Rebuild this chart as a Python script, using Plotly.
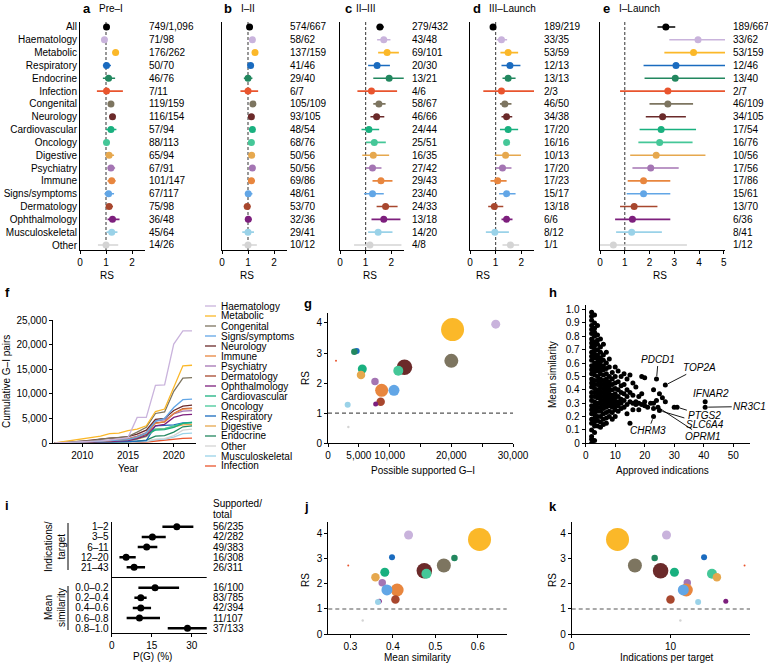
import plotly.graph_objects as go

W, H = 768, 664
FONT = "Liberation Sans, Arial, Helvetica, sans-serif"

# ---------------- data ----------------
categories = ["All", "Haematology", "Metabolic", "Respiratory", "Endocrine", "Infection",
              "Congenital", "Neurology", "Cardiovascular", "Oncology", "Digestive",
              "Psychiatry", "Immune", "Signs/symptoms", "Dermatology", "Ophthalmology",
              "Musculoskeletal", "Other"]
cat_colors = ["#000000", "#c9b3dc", "#fbb829", "#1a6bbf", "#22875f", "#e9552e",
              "#7d7560", "#6b2a2a", "#19b07f", "#45c798", "#e6a84e",
              "#a475b3", "#e8863e", "#62a6e6", "#a8472e", "#7d1f7d",
              "#9ad2e8", "#d4d4d4"]
color_of = dict(zip(categories, cat_colors))

# a: Pre-I
rs_a = [1.02, 0.94, 1.37, 1.02, 1.10, 1.02, 1.19, 1.25, 1.19, 1.02, 1.12, 1.19, 1.22, 1.10, 1.12, 1.25, 1.22, 1.00]
lo_a = [0.98, 0.86, 1.25, 0.88, 0.88, 0.65, 1.12, 1.18, 1.00, 0.96, 0.98, 1.06, 1.06, 0.94, 1.00, 1.06, 1.02, 0.69]
hi_a = [1.06, 1.02, 1.50, 1.19, 1.35, 1.65, 1.27, 1.33, 1.40, 1.08, 1.31, 1.35, 1.37, 1.31, 1.27, 1.52, 1.44, 1.47]
frac_a = ["749/1,096", "71/98", "176/262", "50/70", "46/76", "7/11", "119/159", "116/154", "57/94",
          "88/113", "65/94", "67/91", "101/147", "67/117", "75/98", "36/48", "45/64", "14/26"]
# b: I-II
rs_b = [1.06, 1.17, 1.27, 1.10, 1.00, 1.00, 1.19, 1.13, 1.17, 1.13, 1.14, 1.17, 1.13, 1.01, 0.97, 1.01, 1.00, 1.00]
lo_b = [1.02, 1.10, 1.19, 1.02, 0.84, 0.71, 1.13, 1.06, 1.09, 1.07, 1.06, 1.09, 1.00, 0.88, 0.84, 0.90, 0.78, 0.78]
hi_b = [1.10, 1.24, 1.35, 1.18, 1.17, 1.39, 1.25, 1.20, 1.25, 1.19, 1.22, 1.25, 1.27, 1.17, 1.10, 1.14, 1.23, 1.34]
frac_b = ["574/667", "58/62", "137/159", "41/46", "29/40", "6/7", "105/109", "93/105", "48/54",
          "68/76", "50/56", "50/56", "69/86", "48/61", "53/70", "32/36", "29/41", "10/12"]
# c: II-III
rs_c = [1.56, 1.71, 1.84, 1.45, 1.92, 1.23, 1.52, 1.43, 1.13, 1.34, 1.30, 1.27, 1.60, 1.27, 1.78, 1.71, 1.49, 1.17]
lo_c = [1.43, 1.45, 1.49, 1.10, 1.30, 0.68, 1.30, 1.19, 0.84, 1.01, 0.87, 1.01, 1.27, 0.94, 1.43, 1.23, 1.10, 0.55]
hi_c = [1.71, 1.97, 2.30, 1.95, 2.49, 2.23, 1.78, 1.73, 1.53, 1.79, 1.92, 1.62, 2.05, 1.71, 2.25, 2.36, 2.05, 2.40]
frac_c = ["279/432", "43/48", "69/101", "20/30", "13/21", "4/6", "58/67", "46/66", "24/44",
          "25/51", "16/35", "27/42", "29/43", "23/40", "24/33", "13/18", "14/20", "4/8"]
# d: III-Launch
rs_d = [0.90, 1.23, 1.49, 1.56, 1.49, 1.23, 1.36, 1.43, 1.49, 1.43, 1.39, 1.27, 1.08, 1.43, 0.95, 1.43, 0.97, 1.58]
lo_d = [0.86, 1.04, 1.19, 1.23, 1.27, 0.52, 1.17, 1.23, 1.17, 1.40, 0.97, 1.00, 0.80, 1.14, 0.71, 1.23, 0.62, 1.27]
hi_d = [0.94, 1.45, 1.88, 1.97, 1.78, 2.50, 1.62, 1.65, 1.88, 1.46, 1.99, 1.62, 1.43, 1.78, 1.30, 1.66, 1.52, 1.92]
frac_d = ["189/219", "33/35", "53/59", "12/13", "13/13", "2/3", "46/50", "34/38", "17/20",
          "16/16", "10/13", "17/20", "17/23", "15/17", "13/18", "6/6", "8/12", "1/1"]
# e: I-Launch
rs_e = [2.66, 3.96, 3.78, 3.07, 3.04, 2.74, 2.74, 2.53, 2.47, 2.41, 2.27, 2.05, 1.76, 1.76, 1.38, 1.31, 1.28, 0.54]
lo_e = [2.32, 2.80, 2.60, 1.76, 1.80, 0.81, 2.00, 1.85, 1.60, 1.55, 1.22, 1.31, 1.12, 1.08, 0.81, 0.61, 0.65, 0.00]
hi_e = [3.04, 5.60, 5.60, 5.60, 5.60, 5.60, 3.76, 3.47, 3.88, 3.74, 4.26, 3.18, 2.84, 2.84, 2.32, 2.84, 2.50, 3.51]
frac_e = ["189/667", "33/62", "53/159", "12/46", "13/40", "2/7", "46/109", "34/105", "17/54",
          "16/76", "10/56", "17/56", "17/86", "15/61", "13/70", "6/36", "8/41", "1/12"]

# f: cumulative G-I pairs by year
years = list(range(2007, 2023))
cum_haematology = [0, 60, 150, 250, 350, 450, 600, 800, 1100, 5200, 5200, 11700, 11800, 20100, 22800, 22800]
cum_metabolic = [0, 250, 500, 900, 1000, 1400, 1900, 2000, 2500, 2800, 3500, 6400, 6900, 11200, 15700, 15800]
cum_congenital = [0, 100, 200, 400, 500, 800, 1000, 1100, 1300, 2200, 3200, 6000, 6300, 10500, 13200, 13300]
cum_signs = [0, 50, 100, 200, 300, 400, 500, 600, 700, 1200, 2000, 4400, 5000, 7200, 8800, 8900]
cum_neurology = [0, 80, 200, 400, 600, 900, 1000, 1100, 1300, 1800, 2600, 4800, 5000, 6600, 7500, 7700]
cum_immune = [0, 50, 100, 200, 300, 400, 500, 600, 800, 1300, 2000, 4000, 4300, 6000, 6900, 7000]
cum_psychiatry = [0, 50, 100, 200, 300, 450, 600, 700, 900, 1400, 2100, 4500, 4700, 5900, 6500, 6600]
cum_dermatology = [0, 40, 80, 150, 250, 350, 450, 550, 700, 1100, 1800, 4100, 4300, 6000, 7000, 7100]
cum_ophthalmology = [0, 30, 60, 100, 150, 200, 300, 400, 500, 900, 1500, 3500, 3800, 5200, 5700, 5800]
cum_cardiovascular = [0, 40, 80, 150, 250, 350, 500, 600, 800, 1200, 1800, 2600, 2700, 3200, 4000, 4200]
cum_oncology = [0, 30, 60, 100, 150, 250, 350, 450, 600, 900, 1400, 2800, 2900, 3500, 4000, 4100]
cum_respiratory = [0, 20, 40, 80, 120, 160, 200, 250, 300, 400, 500, 3500, 3600, 3700, 4100, 4200]
cum_digestive = [0, 30, 60, 100, 150, 200, 300, 400, 500, 800, 1300, 2800, 2900, 3300, 3700, 3800]
cum_endocrine = [0, 20, 40, 80, 120, 160, 200, 250, 300, 400, 600, 1400, 1500, 2200, 3300, 3500]
cum_other = [0, 10, 20, 40, 60, 80, 100, 150, 200, 300, 400, 800, 900, 1500, 2600, 2800]
cum_musculoskeletal = [0, 10, 20, 40, 60, 80, 100, 150, 200, 250, 300, 700, 800, 1200, 1900, 2000]
cum_infection = [0, 5, 10, 20, 30, 40, 60, 80, 100, 150, 200, 400, 500, 700, 950, 1000]
legend_order = ["Haematology", "Metabolic", "Congenital", "Signs/symptoms", "Neurology", "Immune",
                "Psychiatry", "Dermatology", "Ophthalmology", "Cardiovascular", "Oncology",
                "Respiratory", "Digestive", "Endocrine", "Other", "Musculoskeletal", "Infection"]
cum_series = [cum_haematology, cum_metabolic, cum_congenital, cum_signs, cum_neurology, cum_immune,
              cum_psychiatry, cum_dermatology, cum_ophthalmology, cum_cardiovascular, cum_oncology,
              cum_respiratory, cum_digestive, cum_endocrine, cum_other, cum_musculoskeletal, cum_infection]

# g, j, k: bubbles (areas) per therapy area
bubble_cats = categories[1:]
possible_gi = [27200, 20200, 4650, 4270, 1300, 20000, 12400, 5560, 11400, 5350, 7620, 8700, 10700, 8540, 7730, 3190, 3300]
mean_sim = [0.437, 0.604, 0.398, 0.545, 0.295, 0.520, 0.474, 0.381, 0.479, 0.359, 0.375, 0.410, 0.386, 0.406, 0.368, 0.365, 0.329]
ind_per_target = [9.6, 4.64, 13.4, 8.4, 17.5, 6.4, 9.0, 10.4, 14.2, 14.7, 11.7, 11.6, 11.3, 10.0, 15.6, 12.8, 11.0]
bubble_area = [81, 529, 36, 42, 2, 196, 240, 81, 100, 72, 56, 169, 121, 72, 25, 36, 6]
rs_bubble = rs_e[1:]

# h: targets, approved indications vs mean similarity
h_columns = {
    2: [0.98, 0.95, 0.92, 0.88, 0.85, 0.82, 0.78, 0.75, 0.72, 0.68, 0.65, 0.62, 0.58, 0.55, 0.52,
        0.48, 0.45, 0.42, 0.38, 0.35, 0.32, 0.28, 0.25, 0.22, 0.18, 0.15, 0.10, 0.05, 0.03, 0.00],
    3: [0.96, 0.90, 0.86, 0.83, 0.80, 0.76, 0.73, 0.70, 0.67, 0.64, 0.60, 0.57, 0.54, 0.51, 0.47,
        0.44, 0.41, 0.38, 0.35, 0.31, 0.28, 0.25, 0.22, 0.19, 0.16, 0.13, 0.08, 0.02],
    4: [0.88, 0.81, 0.77, 0.74, 0.70, 0.66, 0.63, 0.60, 0.57, 0.54, 0.50, 0.47, 0.44, 0.40, 0.37,
        0.34, 0.30, 0.27, 0.24, 0.20, 0.17, 0.13],
    5: [0.78, 0.72, 0.68, 0.64, 0.61, 0.58, 0.55, 0.52, 0.48, 0.45, 0.42, 0.39, 0.36, 0.33, 0.30,
        0.27, 0.24, 0.20, 0.16, 0.12],
    6: [0.74, 0.66, 0.62, 0.58, 0.55, 0.51, 0.47, 0.44, 0.41, 0.38, 0.35, 0.32, 0.29, 0.26, 0.22, 0.18, 0.14],
    7: [0.68, 0.60, 0.56, 0.52, 0.48, 0.45, 0.42, 0.39, 0.36, 0.33, 0.30, 0.27, 0.23, 0.19, 0.15],
    8: [0.63, 0.57, 0.50, 0.46, 0.43, 0.40, 0.37, 0.34, 0.31, 0.28, 0.24, 0.20],
    9: [0.53, 0.48, 0.44, 0.40, 0.36, 0.33, 0.30, 0.27, 0.23, 0.18],
    10: [0.57, 0.50, 0.45, 0.41, 0.37, 0.34, 0.31, 0.28, 0.25, 0.20],
    11: [0.54, 0.46, 0.40, 0.35, 0.31, 0.28, 0.24],
    12: [0.50, 0.43, 0.38, 0.33, 0.30, 0.26],
    13: [0.52, 0.44, 0.37, 0.32, 0.27],
    14: [0.48, 0.40, 0.35, 0.29, 0.22],
    15: [0.51, 0.38, 0.31, 0.15],
    16: [0.45, 0.36, 0.30, 0.25],
    17: [0.42, 0.31, 0.29],
    18: [0.35, 0.30, 0.25],
    19: [0.50, 0.37, 0.29],
    20: [0.49, 0.31, 0.28],
    21: [0.27],
    22: [0.30],
    23: [0.40, 0.30, 0.26],
    24: [0.32],
    25: [0.37],
    26: [0.34],
    27: [0.31],
    30: [0.27],
}
gene_names = ["PDCD1", "TOP2A", "IFNAR2", "NR3C1", "PTGS2", "SLC6A4", "OPRM1", "CHRM3"]
gene_x = [24, 27, 40.5, 40.5, 31, 25, 24.5, 23]
gene_y = [0.48, 0.435, 0.31, 0.27, 0.27, 0.245, 0.27, 0.20]

# i: P(G) by indications per target / mean similarity
i_labels = ["1–2", "3–5", "6–11", "12–20", "21–43", "0.0–0.2", "0.2–0.4", "0.4–0.6", "0.6–0.8", "0.8–1.0"]
i_group = [0, 0, 0, 0, 0, 1, 1, 1, 1, 1]
i_pg = [24.4, 15.25, 13.1, 5.4, 8.4, 16.25, 10.9, 10.9, 10.4, 28.4]
i_lo = [19.0, 11.25, 9.75, 2.9, 5.6, 10.0, 8.5, 7.9, 5.6, 21.0]
i_hi = [30.6, 20.25, 17.1, 9.0, 12.5, 25.25, 13.1, 14.75, 18.1, 37.0]
i_frac = ["56/235", "42/282", "49/383", "16/308", "26/311", "16/100", "83/785", "42/394", "11/107", "37/133"]


# ---------------- helpers ----------------
def dx(p0, p1):
    return [p0 / W, p1 / W]


def dy(top, bottom):
    return [1 - bottom / H, 1 - top / H]


def px(p):
    return p / W


def py(p):
    return 1 - p / H


TF = dict(size=10, color="black", family=FONT)


def ax_common(**kw):
    d = dict(showline=True, linecolor="black", linewidth=1, showgrid=False, zeroline=False,
             ticks="outside", ticklen=3, tickwidth=1, tickcolor="black", tickfont=TF, tickangle=0,
             automargin=False)
    d.update(kw)
    return d


fig = go.Figure()
annotations = []
shapes = []


def ann(xp, yp, text, size=10, xanchor="left", yanchor="middle", bold=False, angle=0):
    annotations.append(dict(x=px(xp), y=py(yp), xref="paper", yref="paper", text=("<b>%s</b>" % text) if bold else text,
                            showarrow=False, xanchor=xanchor, yanchor=yanchor, textangle=angle,
                            font=dict(size=size, color="black", family=FONT)))


# ---------------- panels a-e ----------------
forest = [
    ("a", "Pre–I", rs_a, lo_a, hi_a, frac_a, (80, 145), 2.5, [0, 1, 2], 147, 81, 97, 107),
    ("b", "I–II", rs_b, lo_b, hi_b, frac_b, (222, 287), 2.5, [0, 1, 2], 288, 222, 239, 247),
    ("c", "II–III", rs_c, lo_c, hi_c, frac_c, (340, 404), 2.5, [0, 1, 2], 410, 343, 354, 370),
    ("d", "III–Launch", rs_d, lo_d, hi_d, frac_d, (470, 534), 2.5, [0, 1, 2], 542, 471, 487, 483),
    ("e", "I–Launch", rs_e, lo_e, hi_e, frac_e, (600, 725), 5.05, [0, 1, 2, 3, 4, 5], 731, 601, 617, 660),
]
n = len(categories)
for k, (lab, title, rs, lo, hi, frac, (x0, x1), xmax, tv, fx, labx, titx, rsx) in enumerate(forest, start=1):
    xa = "x" if k == 1 else "x%d" % k
    ya = "y" if k == 1 else "y%d" % k
    for i in range(n):
        c = cat_colors[i]
        fig.add_trace(go.Scatter(
            x=[rs[i]], y=[i], mode="markers", xaxis=xa, yaxis=ya, showlegend=False,
            marker=dict(color=c, size=7, line=dict(width=0)),
            error_x=dict(type="data", symmetric=False, array=[hi[i] - rs[i]], arrayminus=[rs[i] - lo[i]],
                         color=c, thickness=1.6, width=0)))
        annotations.append(dict(x=px(fx), xref="paper", y=i, yref=ya, text=frac[i], showarrow=False,
                                xanchor="left", yanchor="middle", font=TF))
    fig.layout["xaxis" if k == 1 else "xaxis%d" % k] = ax_common(domain=dx(x0, x1), range=[0, xmax], tickvals=tv,
                                                                 anchor=ya)
    fig.layout["yaxis" if k == 1 else "yaxis%d" % k] = ax_common(
        domain=dy(21.7, 250), range=[17.39, -0.41], ticks="", tickvals=list(range(n)),
        ticktext=categories, showticklabels=(k == 1), anchor=xa)
    shapes.append(dict(type="line", xref=xa, yref=ya + " domain", x0=1, x1=1, y0=0, y1=1, layer="below",
                       line=dict(color="#555555", width=1.2, dash="3px,2px")))
    ann(labx, 9, lab, size=13, bold=True)
    ann(titx, 9, title, size=10)
    ann(rsx, 275, "RS", xanchor="center")

# ---------------- panel f ----------------
for name, ser in reversed(list(zip(legend_order, cum_series))):
    fig.add_trace(go.Scatter(x=years, y=ser, mode="lines", xaxis="x6", yaxis="y6", showlegend=False,
                             line=dict(color=color_of[name], width=1.3)))
fig.layout.xaxis6 = ax_common(domain=dx(53, 195.7), range=[2006.8, 2022.4], tickvals=[2010, 2015, 2020], anchor="y6")
fig.layout.yaxis6 = ax_common(domain=dy(320, 443), range=[0, 25000], tickvals=[0, 5000, 10000, 15000, 20000, 25000],
                              tickformat=",", anchor="x6")
for j, name in enumerate(legend_order):
    yy = 306 + 10 * j
    shapes.append(dict(type="line", xref="paper", yref="paper", x0=px(205), x1=px(216), y0=py(yy), y1=py(yy),
                       line=dict(color=color_of[name], width=1.3)))
    ann(219, yy, name)
ann(3, 293, "f", size=13, bold=True)
ann(128, 468, "Year", xanchor="center")
ann(6, 382, "Cumulative G–I pairs", xanchor="center", angle=-90)

# ---------------- bubble panels g, j, k ----------------
bcolors = [color_of[c] for c in bubble_cats]
for xa, ya, xs in (("x7", "y7", possible_gi), ("x10", "y10", mean_sim), ("x11", "y11", ind_per_target)):
    fig.add_trace(go.Scatter(x=xs, y=rs_bubble, mode="markers", xaxis=xa, yaxis=ya, showlegend=False,
                             marker=dict(color=bcolors, size=bubble_area, sizemode="area", sizeref=2, sizemin=1,
                                         line=dict(width=0), opacity=1)))
    shapes.append(dict(type="line", xref=xa + " domain", yref=ya, x0=0, x1=1, y0=1, y1=1, layer="below",
                       line=dict(color="#555555", width=1.2, dash="4px,3px")))

fig.layout.xaxis7 = ax_common(domain=dx(328, 513), range=[0, 30000],
                              tickvals=[0, 5000, 10000, 15000, 20000, 25000, 30000],
                              ticktext=["0", "5,000", "10,000", "", "20,000", "", "30,000"], anchor="y7")
fig.layout.yaxis7 = ax_common(domain=dy(313, 443.3), range=[0, 4.33], tickvals=[0, 1, 2, 3, 4], anchor="x7")
ann(302, 303, "g", size=13, bold=True)
ann(423, 470, "Possible supported G–I", xanchor="center")
ann(305, 378, "RS", xanchor="center", angle=-90)

fig.layout.xaxis10 = ax_common(domain=dx(328.3, 506.7), range=[0.248, 0.668], tickvals=[0.3, 0.4, 0.5, 0.6],
                               anchor="y10")
fig.layout.yaxis10 = ax_common(domain=dy(521.7, 634), range=[0, 4.49], tickvals=[0, 1, 2, 3, 4], anchor="x10")
ann(302, 506, "j", size=13, bold=True)
ann(417, 657, "Mean similarity", xanchor="center")
ann(305, 580, "RS", xanchor="center", angle=-90)

fig.layout.xaxis11 = ax_common(domain=dx(571.7, 750), range=[0, 18.05], tickvals=[0, 10], anchor="y11")
fig.layout.yaxis11 = ax_common(domain=dy(521.7, 634), range=[0, 4.49], tickvals=[0, 1, 2, 3, 4], anchor="x11")
ann(547, 506, "k", size=13, bold=True)
ann(667, 657, "Indications per target", xanchor="center")
ann(552, 580, "RS", xanchor="center", angle=-90)

# ---------------- panel h ----------------
hx, hy = [], []
for xv, ys in h_columns.items():
    for yv in ys:
        hx.append(xv)
        hy.append(yv)
hx += gene_x
hy += gene_y
fig.add_trace(go.Scatter(x=hx, y=hy, mode="markers", xaxis="x8", yaxis="y8", showlegend=False,
                         marker=dict(color="black", size=5, line=dict(width=0))))
fig.layout.xaxis8 = ax_common(domain=dx(585.7, 750), range=[0, 55.7], tickvals=[0, 10, 20, 30, 40, 50], anchor="y8")
hticks = [round(0.1 * t, 1) for t in range(11)]
fig.layout.yaxis8 = ax_common(domain=dy(305, 443.3), range=[0, 1.034], tickvals=hticks,
                              ticktext=["0"] + ["%.1f" % t for t in hticks[1:]], anchor="x8")
ann(547, 293, "h", size=13, bold=True)
ann(662, 470, "Approved indications", xanchor="center")
ann(552, 375, "Mean similarity", xanchor="center", angle=-90)
gene_label_pos = {  # label centre (data coords) and whether a leader line is drawn
    "PDCD1": (24.6, 0.63, True), "TOP2A": (38.7, 0.568, True), "IFNAR2": (42.4, 0.369, False),
    "NR3C1": (55.6, 0.275, True), "PTGS2": (40.4, 0.206, True), "SLC6A4": (40.4, 0.144, True),
    "OPRM1": (39.7, 0.05, True), "CHRM3": (21.2, 0.094, True)}
for g, gx, gy in zip(gene_names, gene_x, gene_y):
    lx, ly, arrow = gene_label_pos[g]
    if arrow:
        annotations.append(dict(x=gx, y=gy, xref="x8", yref="y8", ax=lx, ay=ly, axref="x8", ayref="y8",
                                text="<i>%s</i>" % g, showarrow=True, arrowhead=0, arrowwidth=0.9,
                                arrowcolor="black", standoff=3, font=TF))
    else:
        annotations.append(dict(x=lx, y=ly, xref="x8", yref="y8", text="<i>%s</i>" % g, showarrow=False, font=TF))

# ---------------- panel i ----------------
i_pos = [idx + g for idx, g in enumerate(i_group)]
fig.add_trace(go.Scatter(x=i_pg, y=i_pos, mode="markers", xaxis="x9", yaxis="y9", showlegend=False,
                         marker=dict(color="black", size=7),
                         error_x=dict(type="data", symmetric=False,
                                      array=[h - v for h, v in zip(i_hi, i_pg)],
                                      arrayminus=[v - l for v, l in zip(i_pg, i_lo)],
                                      color="black", thickness=2.5, width=0)))
fig.layout.xaxis9 = ax_common(domain=dx(111.7, 206.7), range=[0, 35.6], tickvals=[0, 15, 30], anchor="y9")
fig.layout.yaxis9 = ax_common(domain=dy(521.7, 633.3), range=[10.5, -0.5], ticks="", tickvals=i_pos,
                              ticktext=i_labels, anchor="x9")
for p, f in zip(i_pos, i_frac):
    annotations.append(dict(x=px(210.5), xref="paper", y=p, yref="y9", text=f, showarrow=False,
                            xanchor="left", yanchor="middle", font=TF))
shapes.append(dict(type="line", xref="x9 domain", yref="y9", x0=0, x1=1, y0=5, y1=5,
                   line=dict(color="black", width=1)))
shapes.append(dict(type="line", xref="paper", yref="paper", x0=px(68), x1=px(68), y0=py(523), y1=py(570),
                   line=dict(color="black", width=1)))
shapes.append(dict(type="line", xref="paper", yref="paper", x0=px(68), x1=px(68), y0=py(586), y1=py(630),
                   line=dict(color="black", width=1)))
ann(3, 505, "i", size=13, bold=True)
ann(210.5, 503, "Supported/")
ann(210.5, 514, "total")
ann(55, 547, "Indications/<br>target", xanchor="center", angle=-90)
ann(55, 608, "Mean<br>similarity", xanchor="center", angle=-90)
ann(152, 656, "P(G) (%)", xanchor="center")

fig.update_layout(template="none", width=W, height=H, autosize=False, margin=dict(l=0, r=0, t=0, b=0, pad=0),
                  paper_bgcolor="white", plot_bgcolor="white", font=dict(family=FONT, size=10, color="black"),
                  annotations=annotations, shapes=shapes, showlegend=False)
fig.write_html("out.html", config={"displayModeBar": False, "staticPlot": True},
               post_script="document.body.style.margin='0';document.body.style.overflow='hidden';")
